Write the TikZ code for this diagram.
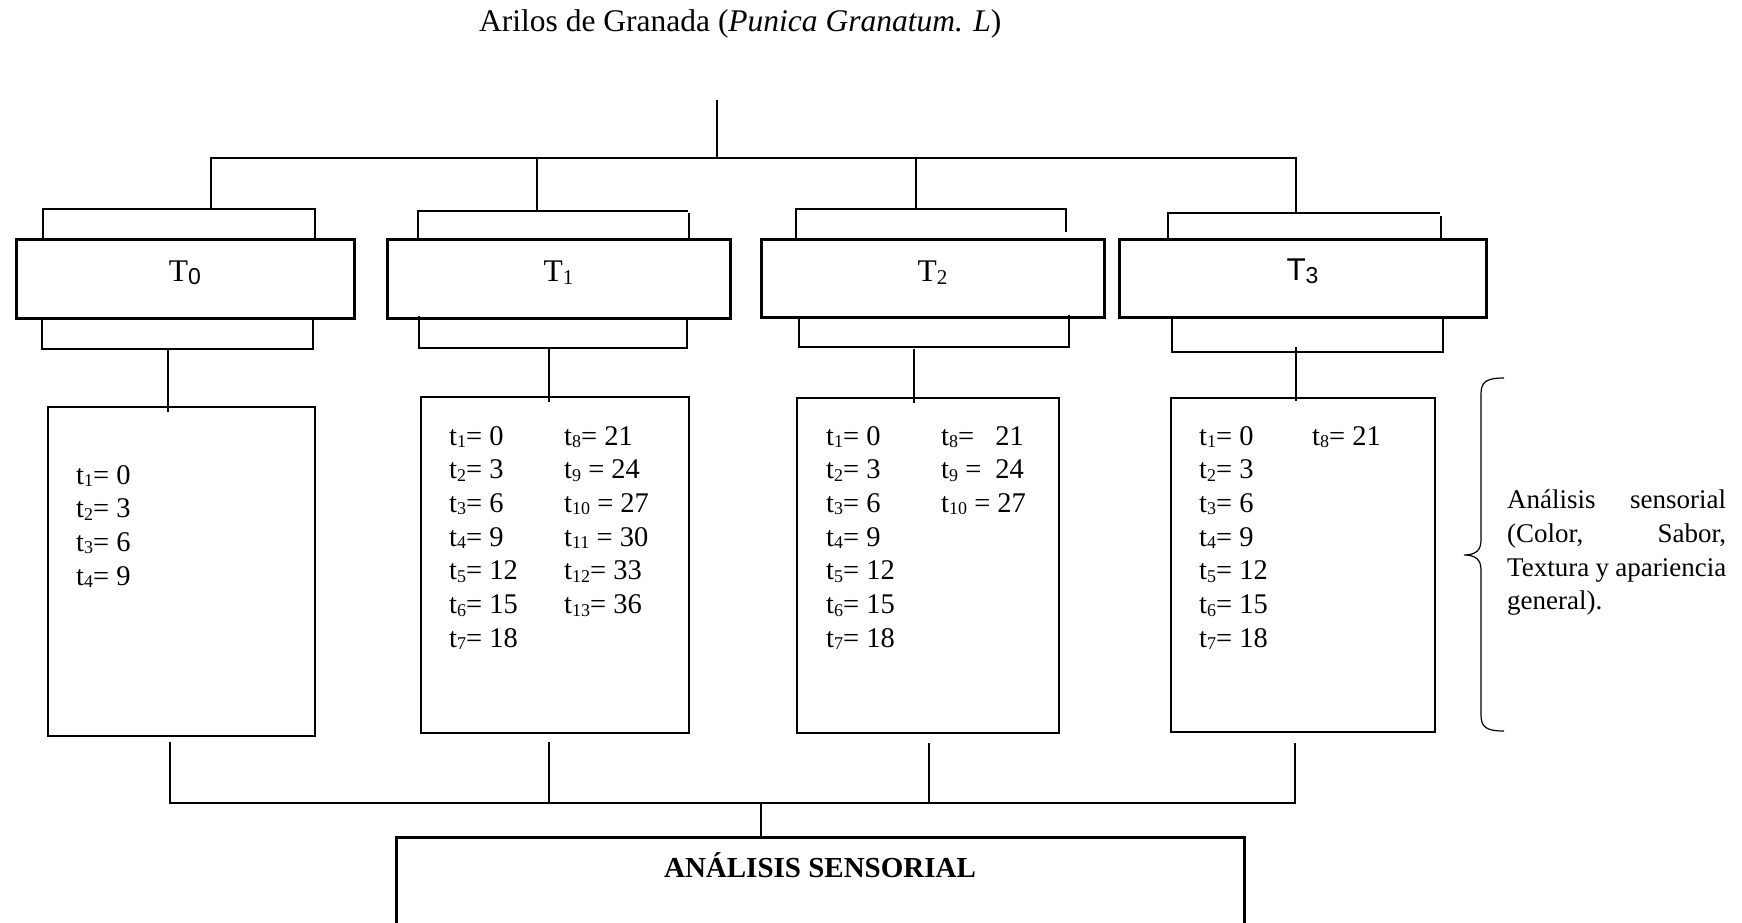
\documentclass[tikz,border=0pt]{standalone}
\usepackage{fontspec}
\setmainfont{Liberation Serif}
\newfontfamily\arialf{Liberation Sans}
\newcommand\sbs[1]{\raisebox{-2.5pt}{\fontsize{18}{18}\selectfont #1}}
\newcommand\tsb[1]{\raisebox{-3pt}{\fontsize{21}{21}\selectfont #1}}
\newcommand\tsa[1]{\raisebox{-3pt}{\fontsize{23}{23}\selectfont\arialf #1}}
\begin{document}
\begin{tikzpicture}[x=1pt,y=-1pt,
  conn/.style={line width=1.2pt},
  tbox/.style={draw, line width=3pt, inner sep=0pt},
  lbox/.style={draw, line width=2.6pt, inner sep=0pt},
  lst/.style={inner sep=0pt, anchor=base west, font=\fontsize{28.5}{33}\selectfont},
  tlab/.style={inner sep=0pt, anchor=base, font=\fontsize{31.5}{35}\selectfont},
  rtxt/.style={inner sep=0pt, anchor=base west, font=\fontsize{27}{34}\selectfont}]
\useasboundingbox (0,0) rectangle (1742,923);
\clip (0,0) rectangle (1742,923);

% title
\node[inner sep=0pt, anchor=base west, font=\fontsize{31.5}{36}\selectfont] (title) at (479,32)
  {Arilos de Granada (\textit{Punica Granatum. L})};

% treatment boxes
\node[tbox, minimum width=338, minimum height=79] (T0) at (185,278.5) {};
\node[tbox, minimum width=343, minimum height=79] (T1) at (558.5,278.5) {};
\node[tbox, minimum width=343, minimum height=78] (T2) at (932.5,278.5) {};
\node[tbox, minimum width=367, minimum height=78] (T3) at (1302.5,278) {};
\node[tlab] (l0) at (185,281) {T\tsa{0}};
\node[tlab] (l1) at (558.5,281) {T\tsb{1}};
\node[tlab] (l2) at (932.5,281) {T\tsb{2}};
\node[tlab] (l3) at (1302.5,280) {\arialf T\tsa{3}};

% list boxes
\node[lbox, minimum width=267, minimum height=329] (L0) at (181.5,571.5) {};
\node[lbox, minimum width=268, minimum height=336] (L1) at (555,565) {};
\node[lbox, minimum width=262, minimum height=335] (L2) at (928,565.5) {};
\node[lbox, minimum width=264, minimum height=334] (L3) at (1303,565) {};

% bottom box
\node[tbox, minimum width=848, minimum height=140] (AS) at (820,907) {};
\node[inner sep=0pt, anchor=base, font=\fontsize{29}{33}\bfseries\selectfont] (ASt) at (820,877) {ANÁLISIS SENSORIAL};

% lists
\foreach \t [count=\i] in {t\sbs{1}= 0, t\sbs{2}= 3, t\sbs{3}= 6, t\sbs{4}= 9}
  \node[lst] (a\i) at (76,{484+33.7*(\i-1)}) {\t};
\foreach \t [count=\i] in {t\sbs{1}= 0, t\sbs{2}= 3, t\sbs{3}= 6, t\sbs{4}= 9, t\sbs{5}= 12, t\sbs{6}= 15, t\sbs{7}= 18}
  {\node[lst] (b\i) at (449,{445+33.7*(\i-1)}) {\t};
   \node[lst] (c\i) at (826,{445+33.7*(\i-1)}) {\t};
   \node[lst] (d\i) at (1199,{445+33.7*(\i-1)}) {\t};}
\foreach \t [count=\i] in {t\sbs{8}= 21, t\sbs{9} = 24, t\sbs{10} = 27, t\sbs{11} = 30, t\sbs{12}= 33, t\sbs{13}= 36}
  \node[lst] (e\i) at (564,{445+33.7*(\i-1)}) {\t};
\foreach \t [count=\i] in {t\sbs{8}=\hspace{14pt} 21, t\sbs{9} =\hspace{7pt} 24, t\sbs{10} = 27}
  \node[lst] (f\i) at (941,{445+33.7*(\i-1)}) {\t};
\node[lst] (g1) at (1312,445) {t\sbs{8}= 21};

% right annotation
\draw[line width=1.2pt] (1504,378) .. controls (1486,378) and (1481,382) .. (1481,394)
  -- (1481,540) .. controls (1481,550) and (1476,555) .. (1464,555)
  .. controls (1476,555) and (1481,560) .. (1481,570)
  -- (1481,715) .. controls (1481,727) and (1486,731) .. (1504,731);
\node[rtxt] (r1) at (1507,508) {\hbox to 219pt{Análisis\hfill sensorial}};
\node[rtxt] (r2) at (1507,542) {\hbox to 219pt{(Color,\hfill Sabor,}};
\node[rtxt] (r3) at (1507,576) {\hbox to 219pt{Textura\hfill y\hfill apariencia}};
\node[rtxt] (r4) at (1507,609) {general).};

% top connectors
\coordinate (top) at (717,100);
\coordinate (hub) at (717,158);
\draw[conn] (top) -- (hub);
\draw[conn] (211,209) -- (211,158) -- (1296,158) -- (1296,213);
\draw[conn] (537,158) -- (537,211);
\draw[conn] (916,158) -- (916,209);

% upper brackets
\draw[conn] (43,239) -- (43,209) -- (315,209) -- (315,239);
\draw[conn] (418,239) -- (418,211) -- (688,211);
\draw[conn] (689,213) -- (689,239);
\draw[conn] (796,239) -- (796,209) -- (1066,209) -- (1066,232);
\draw[conn] (1168,239) -- (1168,213) -- (1440,213);
\draw[conn] (1441,216) -- (1441,239);

% lower brackets
\draw[conn] (42,318) -- (42,349) -- (313,349) -- (313,318);
\draw[conn] (168,349) -- (168,412);
\draw[conn] (419,316) -- (419,348) -- (687,348) -- (687,318);
\draw[conn] (549,348) -- (549,402);
\draw[conn] (799,317) -- (799,347) -- (1069,347) -- (1069,315);
\draw[conn] (914,349) -- (914,403);
\draw[conn] (1172,317) -- (1172,352) -- (1443,352) -- (1443,317);
\draw[conn] (1296,347) -- (1296,401);

% bottom connectors
\draw[conn] (170,742) -- (170,803) -- (1295,803) -- (1295,743);
\draw[conn] (549,742) -- (549,803);
\draw[conn] (929,743) -- (929,803);
\draw[conn] (761,803) -- (AS.north -| 761,0);
\end{tikzpicture}
\end{document}
